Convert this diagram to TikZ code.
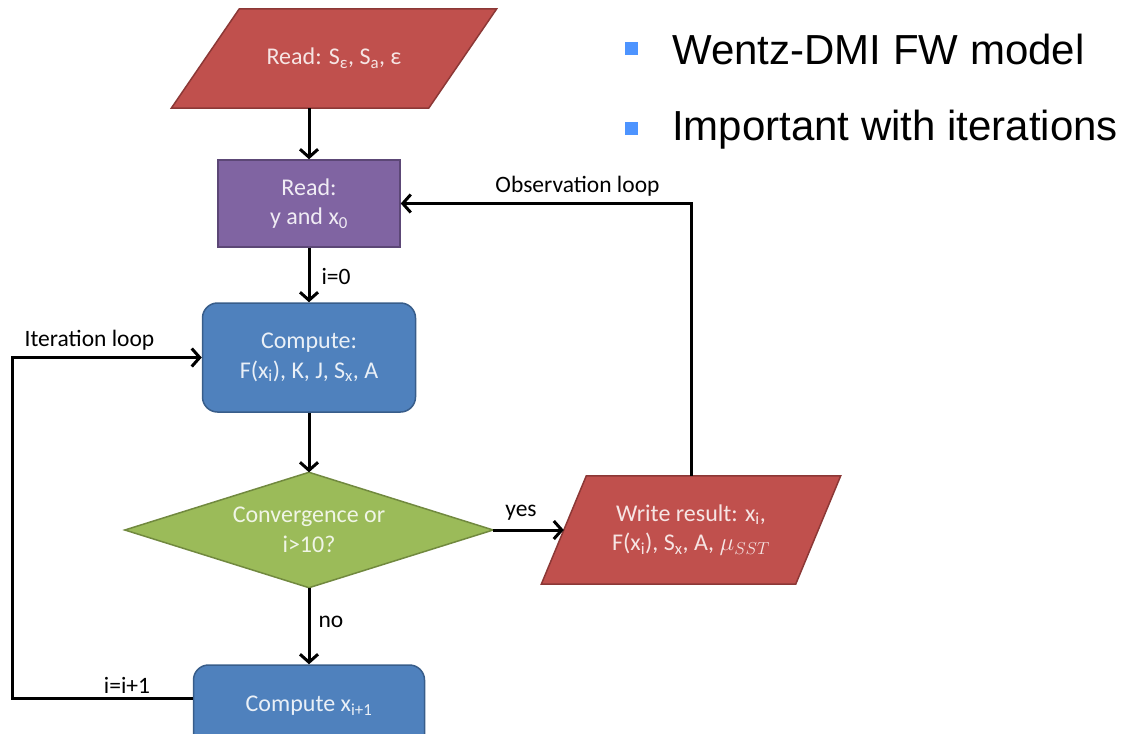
\documentclass[tikz,border=0pt]{standalone}
\usepackage{fontspec}
\setmainfont{Carlito}
\newfontfamily\arialfont{Liberation Sans}
\usetikzlibrary{arrows.meta,calc,backgrounds}
\definecolor{redf}{HTML}{C0504D}
\definecolor{redd}{HTML}{8C3836}
\definecolor{purf}{HTML}{8064A2}
\definecolor{purd}{HTML}{5C4776}
\definecolor{bluf}{HTML}{4F81BD}
\definecolor{blud}{HTML}{385D8A}
\definecolor{grnf}{HTML}{9BBB59}
\definecolor{grnd}{HTML}{71893F}
\definecolor{bulc}{HTML}{4D94FF}
\begin{document}
\begin{tikzpicture}[x=1pt,y=-1pt,
  boxtxt/.style={font=\fontsize{24}{29.5}\selectfont, align=center, inner sep=0pt},
  lbl/.style={font=\fontsize{23.5}{29}\selectfont, text=black, inner sep=0pt},
  rdpara/.style={boxtxt, text=white!85!redf},
  purbox/.style={boxtxt, text=white!88!purf, draw=purd, fill=purf, line width=1.5pt},
  blubox/.style={boxtxt, text=white!88!bluf, draw=blud, fill=bluf, line width=1.5pt, rounded corners=15pt},
  redshape/.style={draw=redd, fill=redf, line width=1.5pt, line join=miter},
  grnshape/.style={draw=grnd, fill=grnf, line width=1.5pt},
  arr/.style={line width=3pt, -{Straight Barb[length=8pt,width=18pt]}},
  bul/.style={fill=bulc, minimum size=13pt, inner sep=0pt},
  bultxt/.style={font=\arialfont\fontsize{42}{50}\selectfont, anchor=base west, inner sep=0pt}
]
\useasboundingbox (0,0) rectangle (1126,733);
\clip (0,0) rectangle (1126,733);

% nodes
\node[rdpara, minimum width=257pt, minimum height=99pt] (rd1) at (334,58.5)
  {Read: S\textsubscript{ε}, S\textsubscript{a}, ε};
\node[purbox, minimum width=182pt, minimum height=87pt] (rd2) at (309,203.5)
  {Read:\\ y and x\textsubscript{0}};
\node[blubox, minimum width=213pt, minimum height=109pt] (cmp) at (309,357.5)
  {Compute:\\ F(x\textsubscript{i}), K, J, S\textsubscript{x}, A};
\node[boxtxt, text=white!85!grnf, minimum width=368pt, minimum height=115pt] (dec) at (309,530)
  {Convergence or\\ i>10?};
\node[rdpara, minimum width=254pt, minimum height=108pt] (wr) at (691,530)
  {Write result: x\textsubscript{i},\\ F(x\textsubscript{i}), S\textsubscript{x}, A, $\mu_{SST}$};
\node[blubox, minimum width=231pt, minimum height=95pt] (cx) at (309,712.5)
  {\raisebox{17pt}{Compute x\textsubscript{i+1}}};

% background shapes
\begin{scope}[on background layer]
  \draw[redshape] ($(rd1.north west)+(34,0)$) -- ($(rd1.north east)+(34,0)$)
    -- ($(rd1.south east)+(-34,0)$) -- ($(rd1.south west)+(-34,0)$) -- cycle;
  \draw[redshape] ($(wr.north west)+(22.5,0)$) -- ($(wr.north east)+(22.5,0)$)
    -- ($(wr.south east)+(-22.5,0)$) -- ($(wr.south west)+(-22.5,0)$) -- cycle;
  \draw[grnshape] (dec.north) -- (dec.east) -- (dec.south) -- (dec.west) -- cycle;
\end{scope}

% bullets
\node[bul] (b1) at (631.5,48.5) {};
\node[bultxt] (t1) at (672,65) {Wentz-DMI FW model};
\node[bul] (b2) at (631.5,128.5) {};
\node[bultxt] (t2) at (672,140) {Important with iterations};

% connectors
\draw[arr] (rd1.south -| rd2.north) -- (rd2.north);
\draw[arr] (rd2.south) -- (cmp.north);
\draw[arr] (cmp.south) -- (dec.north);
\draw[arr] (dec.east) -- (wr.west);
\draw[arr] (dec.south) -- (cx.north);
\draw[arr, line join=miter] (wr.north) |- (rd2.east);
\coordinate (loopc) at (12,500);
\draw[arr, line join=miter] ([yshift=14.5pt]cx.west) -| (loopc) |- (cmp.west);

% labels
\node[lbl] (l0) at (336,276) {i=0};
\node[lbl] (lit) at (89.5,340) {Iteration loop};
\node[lbl] (lob) at (577.5,186) {Observation loop};
\node[lbl] (lyes) at (521,513) {yes};
\node[lbl] (lno) at (331,622) {no};
\node[lbl] (linc) at (127,685) {i=i+1};
\end{tikzpicture}
\end{document}
